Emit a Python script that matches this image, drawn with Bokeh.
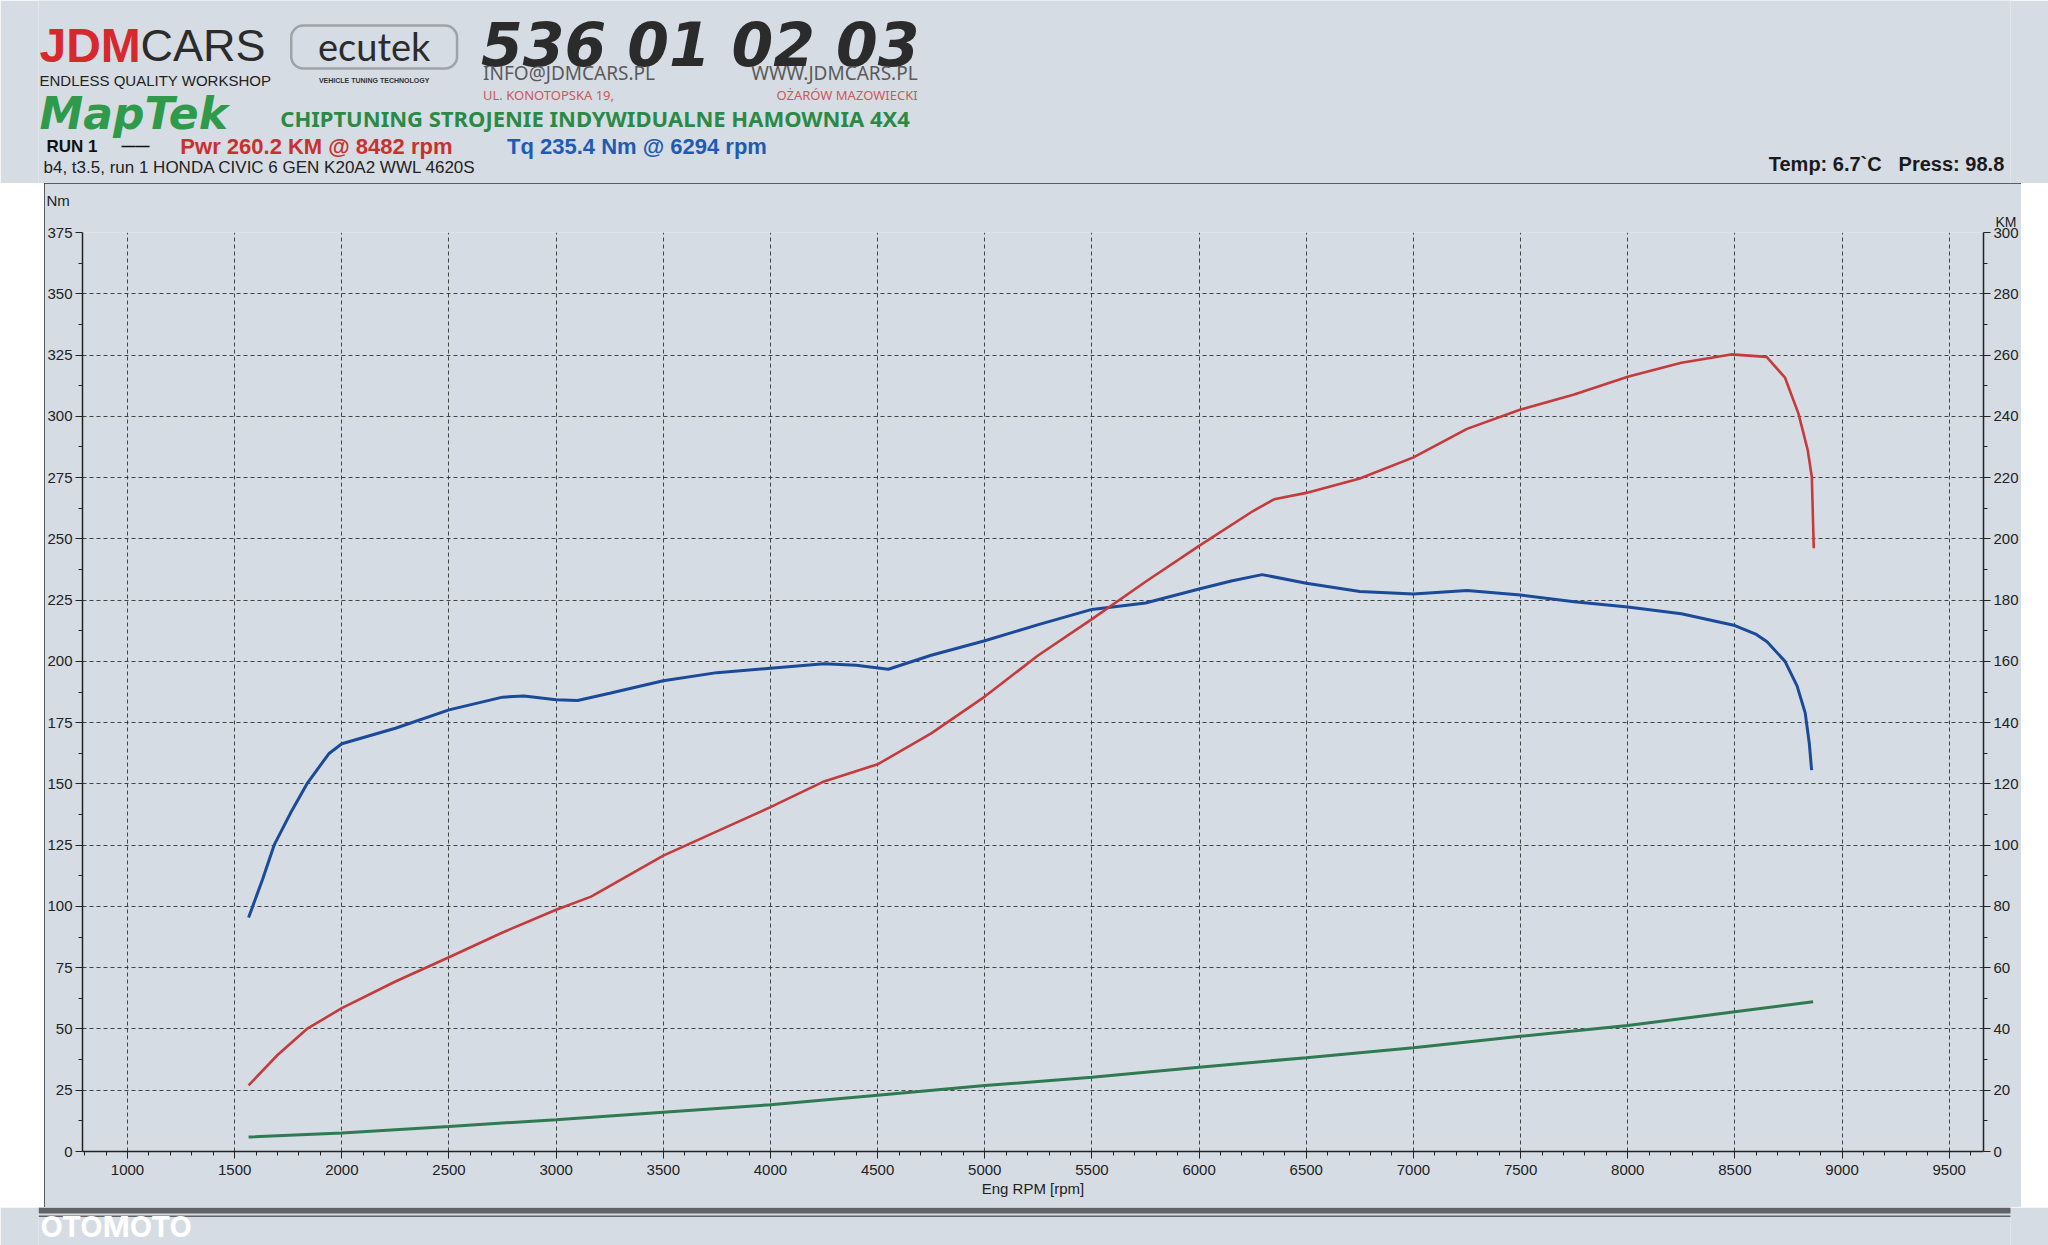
from bokeh.plotting import figure
from bokeh.layouts import column
from bokeh.models import Range1d, LinearAxis, FixedTicker, Label, BoxAnnotation, Title
from bokeh.embed import file_html
from bokeh.resources import INLINE

# ---------------- data ----------------
torque_rpm = [1565, 1630, 1684, 1760, 1837, 1939, 2000, 2250, 2500, 2750, 2850, 3000, 3100,
              3250, 3500, 3750, 4000, 4250, 4400, 4550, 4750, 5000, 5250, 5500, 5750, 6000,
              6150, 6294, 6500, 6750, 7000, 7250, 7500, 7750, 8000, 8250, 8500, 8600, 8650,
              8734, 8790, 8828, 8847, 8858]
torque_nm = [95.5, 111.0, 125.0, 138.0, 150.0, 162.3, 166.4, 172.7, 180.2, 185.4, 185.9, 184.3,
             184.0, 187.0, 192.1, 195.4, 197.2, 199.0, 198.4, 196.8, 202.5, 208.4, 215.0, 221.2,
             223.8, 229.5, 232.8, 235.4, 231.9, 228.5, 227.5, 228.9, 227.1, 224.3, 222.2, 219.4,
             214.6, 211.0, 208.0, 200.0, 190.0, 179.0, 166.7, 155.6]

power_rpm = [1565, 1700, 1837, 2000, 2250, 2500, 2750, 3000, 3163, 3500, 3750, 4000, 4250, 4500,
             4750, 5000, 5250, 5500, 5750, 6000, 6250, 6350, 6500, 6750, 7000, 7250, 7500, 7750,
             8000, 8250, 8482, 8648, 8734, 8797, 8840, 8859, 8868]
power_km = [21.6, 31.5, 40.0, 46.8, 55.5, 63.4, 71.5, 78.9, 83.2, 96.6, 104.5, 112.4, 120.8, 126.4,
            136.5, 148.5, 162.0, 173.8, 186.0, 197.7, 209.0, 212.9, 215.0, 219.7, 226.6, 235.9,
            242.2, 247.1, 252.9, 257.5, 260.2, 259.4, 252.6, 240.8, 228.9, 220.2, 196.9]

green_rpm = [1565, 2000, 2500, 3000, 3500, 4000, 4500, 5000, 5500, 6000, 6500, 7000, 7500, 8000,
             8500, 8865]
green_val = [5.9, 7.5, 10.2, 13.0, 16.0, 19.1, 23.0, 26.9, 30.3, 34.4, 38.3, 42.3, 47.0, 51.4,
             57.0, 61.1]

rpm_ticks = [1000, 1500, 2000, 2500, 3000, 3500, 4000, 4500, 5000, 5500, 6000, 6500, 7000, 7500,
             8000, 8500, 9000, 9500]
nm_ticks = [0, 25, 50, 75, 100, 125, 150, 175, 200, 225, 250, 275, 300, 325, 350, 375]
km_ticks = [0, 20, 40, 60, 80, 100, 120, 140, 160, 180, 200, 220, 240, 260, 280, 300]

# ---------------- styling ----------------
BG = "#d6dce3"
RED = "#c53a3b"
BLUE = "#1b4a99"
GREEN = "#2f7a52"
INK = "#222222"
SANS = "Liberation Sans"

PAGE_W = 2048
HEAD_BOTTOM = 183      # page y where the paper (chart) starts
CHART_BOTTOM = 1207    # page y of the paper's bottom edge
PAGE_BOTTOM = 1245

# frames of plots stacked in a column share their side borders
BL, BR = 38, 36
FRAME_L, FRAME_R, FRAME_T, FRAME_B = 82, 1985, 232, 1151
CHART_X0 = FRAME_L - BL
CHART_X1 = FRAME_R + BR


def blank(h, y0, y1):
    f = figure(width=PAGE_W, height=h, x_range=Range1d(BL, PAGE_W - BR), y_range=Range1d(y1, y0),
               x_axis_type=None, y_axis_type=None, output_backend="svg", toolbar_location=None,
               min_border_left=BL, min_border_right=BR, min_border_top=0, min_border_bottom=0,
               background_fill_color=BG, border_fill_color=BG, outline_line_color=None)
    f.grid.visible = False
    return f


# ---------------- header ----------------
hd = blank(HEAD_BOTTOM, 0, HEAD_BOTTOM)


def lab(px, py, text, size, color=INK, font=SANS, style="normal", align="left", fig=None):
    (fig or hd).add_layout(Label(x=px, y=py, text=text, text_font=font,
                                 text_font_size=f"{size}px", text_font_style=style,
                                 text_color=color, text_align=align, text_baseline="middle"))


lab(39, 45, "JDM", 48, "#d6282d", SANS, "bold")
lab(140, 45, "CARS", 45, "#2b2b2b", SANS)
lab(39, 80, "ENDLESS QUALITY WORKSHOP", 15, "#222222", SANS)
hd.add_layout(BoxAnnotation(left=291, right=457, top=25, bottom=68, fill_alpha=0,
                            line_color="#222222", line_width=2.5, border_radius=12))
lab(374, 45, "ecutek", 38, "#2b2b2b", "Lato", align="center")
lab(374, 80, "VEHICLE TUNING TECHNOLOGY", 7, "#333333", SANS, "bold", align="center")
lab(481, 44, "536 01 02 03", 60, "#2b2b2b", "DejaVu Sans", "bold italic")
lab(483, 72, "INFO@JDMCARS.PL", 19, "#5a5a5a", "Noto Sans")
lab(918, 72, "WWW.JDMCARS.PL", 19, "#5a5a5a", "Noto Sans", align="right")
lab(483, 94, "UL. KONOTOPSKA 19,", 13, "#c85a5a", "Noto Sans")
lab(918, 94, "OŻARÓW MAZOWIECKI", 13, "#c85a5a", "Noto Sans", align="right")
lab(39, 113, "MapTek", 44, "#2f9a4a", "DejaVu Sans", "bold italic")
lab(280, 117, "CHIPTUNING STROJENIE INDYWIDUALNE HAMOWNIA 4X4", 22, "#2a8a45", "Noto Sans", "bold")

lab(46, 146, "RUN 1", 17, "#111111", SANS, "bold")
lab(121, 145, "——", 14, "#111111", SANS, "bold")
lab(180, 146, "Pwr  260.2 KM @ 8482 rpm", 22, "#c8312f", SANS, "bold")
lab(507, 146, "Tq 235.4 Nm @ 6294 rpm", 22, "#1e5bb4", SANS, "bold")
lab(43, 167, "b4, t3.5, run 1 HONDA CIVIC 6 GEN K20A2 WWL 4620S", 17, "#222222", SANS)
lab(1770, 163, "Temp: 6.7`C", 20, "#1a1a1a", SANS, "bold")
lab(1900, 163, "Press: 98.8", 20, "#1a1a1a", SANS, "bold")

# ---------------- chart (the paper) ----------------
p = figure(width=CHART_X1 - CHART_X0, height=CHART_BOTTOM - HEAD_BOTTOM,
           x_range=Range1d(790, 9660), y_range=Range1d(0, 375),
           output_backend="svg", toolbar_location=None,
           min_border_left=BL, min_border_right=BR,
           min_border_top=FRAME_T - HEAD_BOTTOM, min_border_bottom=CHART_BOTTOM - FRAME_B,
           background_fill_color=BG, border_fill_color=BG, outline_line_color=None,
           margin=(0, 0, 0, CHART_X0),
           styles={"outline": "2px solid #333333", "outline-offset": "-2px"})

p.extra_y_ranges = {"km": Range1d(0, 300)}

xa = p.xaxis[0]
xa.ticker = FixedTicker(ticks=rpm_ticks, minor_ticks=list(range(800, 9700, 100)))
xa.axis_label = "Eng RPM [rpm]"
xa.axis_label_text_font = SANS
xa.axis_label_text_font_size = "15px"
xa.axis_label_text_font_style = "normal"
xa.axis_label_text_color = INK
xa.axis_label_standoff = 2

ya = p.yaxis[0]
ya.ticker = FixedTicker(ticks=nm_ticks, minor_ticks=[v + 12.5 for v in nm_ticks[:-1]])

ka = LinearAxis(y_range_name="km",
                ticker=FixedTicker(ticks=km_ticks, minor_ticks=list(range(10, 300, 20))))
p.add_layout(ka, "right")

for ax in (xa, ya, ka):
    ax.axis_line_color = INK
    ax.axis_line_width = 1.5
    ax.major_tick_line_color = INK
    ax.minor_tick_line_color = INK
    ax.major_tick_out = 7
    ax.major_tick_in = 0
    ax.minor_tick_out = 4
    ax.minor_tick_in = 0
    ax.major_label_text_color = INK
    ax.major_label_text_font = SANS
    ax.major_label_text_font_size = "15px"
    ax.major_label_standoff = 3
xa.major_label_standoff = 6

for g in (p.xgrid[0], p.ygrid[0]):
    g.grid_line_color = "#333333"
    g.grid_line_dash = "4 3"
    g.grid_line_width = 1
    g.grid_line_alpha = 0.9

# unit labels above the axes
t_km = Title(text="KM", align="left", offset=1995 - FRAME_L, text_font=SANS,
             text_font_size="14px", text_font_style="normal", text_color=INK, standoff=6)
t_nm = Title(text="Nm", align="left", offset=46 - FRAME_L, text_font=SANS,
             text_font_size="15px", text_font_style="normal", text_color=INK, standoff=0)
p.add_layout(t_km, "above")
p.add_layout(t_nm, "above")

p.line(green_rpm, green_val, line_color=GREEN, line_width=3)
p.line(torque_rpm, torque_nm, line_color=BLUE, line_width=3)
p.line(power_rpm, power_km, y_range_name="km", line_color=RED, line_width=2.6)

# ---------------- footer ----------------
ft = blank(PAGE_BOTTOM - CHART_BOTTOM, CHART_BOTTOM, PAGE_BOTTOM)
ft.add_layout(BoxAnnotation(left=BL, right=CHART_X1, top=CHART_BOTTOM, bottom=CHART_BOTTOM + 6,
                            fill_color="#5f6266", fill_alpha=1, line_color=None))
ft.add_layout(BoxAnnotation(left=BL, right=CHART_X1, top=CHART_BOTTOM + 8,
                            bottom=CHART_BOTTOM + 9.5, fill_color="#5f6266", fill_alpha=1,
                            line_color=None))
lab(40, 1226, "OTOMOTO", 29, "#ffffff", "Inter", "bold", fig=ft)

layout = column(hd, p, ft, spacing=0)
html = file_html(layout, INLINE)
html = html.replace("<body>", f'<body style="background-color:{BG};">', 1)
open("out.html", "w").write(html)
